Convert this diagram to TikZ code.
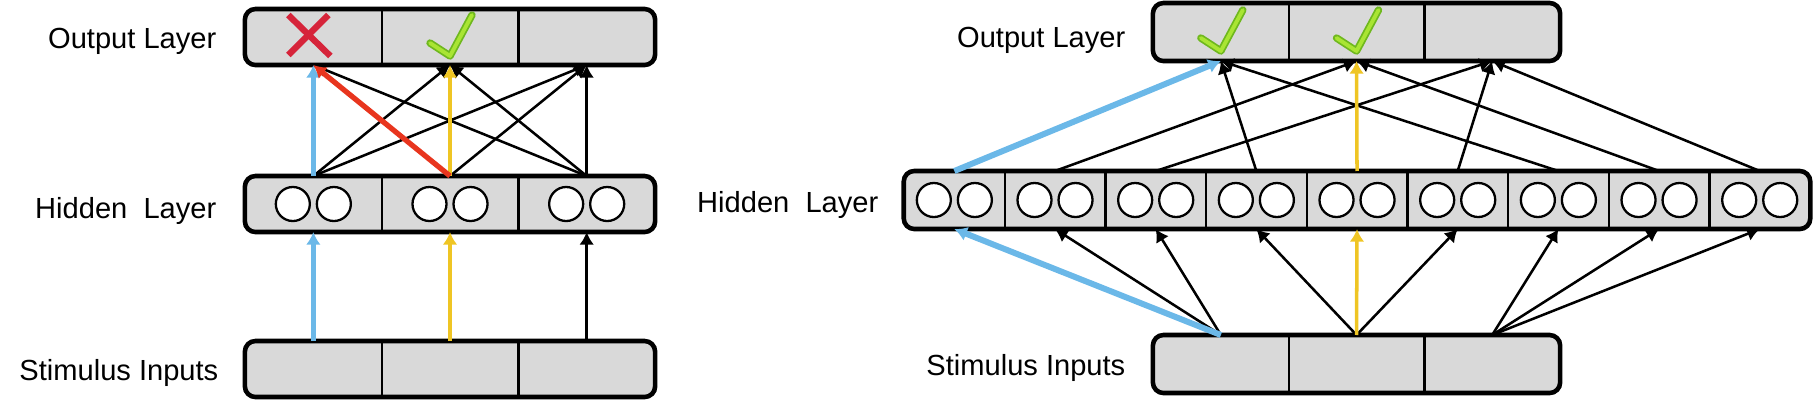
\documentclass[tikz,border=0pt]{standalone}
\usepackage{fontspec}
\setmainfont{Liberation Sans}
\usepackage{tikz}
\usetikzlibrary{positioning,arrows.meta}
\definecolor{boxfill}{HTML}{D9D9D9}
\definecolor{bluearr}{HTML}{6BB8E8}
\definecolor{yelarr}{HTML}{EFC524}
\definecolor{redarr}{HTML}{E8351E}
\definecolor{xred}{HTML}{D6243A}
\definecolor{tickfill}{HTML}{A9E533}
\definecolor{tickline}{HTML}{6FB81E}
\tikzset{
  layerbox/.style={draw, line width=1.3pt, fill=boxfill, rounded corners=3pt,
                   inner sep=0pt, outer sep=0pt},
  cell/.style={inner sep=0pt, outer sep=0pt},
  divider/.style={line width=0.65pt},
  unit/.style={circle, draw, fill=white, line width=0.65pt,
               minimum size=0.34cm, inner sep=0pt},
  lbl/.style={anchor=base east, inner sep=0pt,
              font=\fontsize{8.27pt}{10pt}\selectfont},
  conn/.style={-{Latex[length=3.6pt,width=4.2pt]}, line width=0.72pt},
  blueconn/.style={conn, draw=bluearr, line width=1.4pt},
  yelconn/.style={conn, draw=yelarr, line width=1.1pt},
  redconn/.style={conn, draw=redarr, line width=1.5pt},
  tickmark/.style={draw=tickline, double=tickfill, double distance=1.1pt,
                   line width=0.5pt, line cap=round, line join=round},
  xmark/.style={draw=xred, line width=1.8pt}
}
\newcommand{\drawtick}[1]{%
  \draw[tickmark] ([shift={(-20,6)}]#1.center) -- ([shift={(0,19)}]#1.center)
    -- ([shift={(22,-22)}]#1.center);}

\begin{document}
\begin{tikzpicture}[x=0.01cm, y=-0.01cm]
  \useasboundingbox (0,0) rectangle (1816,402);

  % --- left network: 3 inputs, 3 hidden groups, 3 outputs ---
  \node[layerbox, minimum width=4.1cm, minimum height=0.56cm] (L-out) at (450,37) {};
  \node[layerbox, minimum width=4.1cm, minimum height=0.56cm] (L-hid) at (450,204) {};
  \node[layerbox, minimum width=4.1cm, minimum height=0.56cm] (L-in) at (450,369) {};
  \foreach \i in {1,2,3} {
    \node[cell, minimum width=1.3667cm, minimum height=0.56cm] (L-o\i) at ({245+136.67*(\i-0.5)},37) {};
    \node[cell, minimum width=1.3667cm, minimum height=0.56cm] (L-h\i) at ({245+136.67*(\i-0.5)},204) {};
    \node[cell, minimum width=1.3667cm, minimum height=0.56cm] (L-i\i) at ({245+136.67*(\i-0.5)},369) {};
    \node[unit] (L-u\i-a) at ([xshift=-0.205cm]L-h\i.center) {};
    \node[unit] (L-u\i-b) at ([xshift=0.205cm]L-h\i.center) {};
  }
  \foreach \i in {1,2} {
    \draw[divider] (L-o\i.north east) -- (L-o\i.south east);
    \draw[divider] (L-h\i.north east) -- (L-h\i.south east);
    \draw[divider] (L-i\i.north east) -- (L-i\i.south east);
  }
  \node[lbl] (L-outlbl) at (217,48) {Output Layer};
  \node[lbl] (L-hidlbl) at (217,218) {Hidden\ \ Layer};
  \node[lbl] (L-inlbl) at (219,380) {Stimulus Inputs};

  % hidden -> output
  \draw[conn] (L-h1.north) -- (L-o2.south);
  \draw[conn] (L-h1.north) -- (L-o3.south);
  \draw[conn] (L-h2.north) -- (L-o3.south);
  \foreach \i in {1,2,3}
    \draw[conn] (L-h3.north) -- (L-o\i.south);
  \draw[blueconn] (L-h1.north) -- (L-o1.south);
  \draw[yelconn] (L-h2.north) -- (L-o2.south);
  \draw[redconn] (L-h2.north) -- (L-o1.south);
  % input -> hidden
  \draw[blueconn] (L-i1.north) -- (L-h1.south);
  \draw[yelconn] (L-i2.north) -- (L-h2.south);
  \draw[conn] (L-i3.north) -- (L-h3.south);

  % marks
  \draw[xmark] ([shift={(-25,-22)}]L-o1.center) -- ([shift={(17,19)}]L-o1.center);
  \draw[xmark] ([shift={(15,-22)}]L-o1.center) -- ([shift={(-25,18)}]L-o1.center);
  \drawtick{L-o2}

  % --- right network: 3 inputs, 9 hidden groups, 3 outputs ---
  \node[layerbox, minimum width=4.07cm, minimum height=0.58cm] (R-out) at (1356.5,32) {};
  \node[layerbox, minimum width=9.06cm, minimum height=0.58cm] (R-hid) at (1357,200) {};
  \node[layerbox, minimum width=4.07cm, minimum height=0.58cm] (R-in) at (1356.5,364) {};
  \foreach \i in {1,2,3} {
    \node[cell, minimum width=1.3567cm, minimum height=0.58cm] (R-o\i) at ({1153+135.67*(\i-0.5)},32) {};
    \node[cell, minimum width=1.3567cm, minimum height=0.58cm] (R-i\i) at ({1153+135.67*(\i-0.5)},364) {};
  }
  \foreach \i in {1,...,9} {
    \node[cell, minimum width=1.0067cm, minimum height=0.58cm] (R-h\i) at ({904+100.67*(\i-0.5)},200) {};
    \node[unit] (R-u\i-a) at ([xshift=-0.205cm]R-h\i.center) {};
    \node[unit] (R-u\i-b) at ([xshift=0.205cm]R-h\i.center) {};
  }
  \foreach \i in {1,2} {
    \draw[divider] (R-o\i.north east) -- (R-o\i.south east);
    \draw[divider] (R-i\i.north east) -- (R-i\i.south east);
  }
  \foreach \i in {1,...,8}
    \draw[divider] (R-h\i.north east) -- (R-h\i.south east);
  \node[lbl] (R-outlbl) at (1126,47) {Output Layer};
  \node[lbl] (R-hidlbl) at (879,212) {Hidden\ \ Layer};
  \node[lbl] (R-inlbl) at (1126,375) {Stimulus Inputs};

  % hidden -> output, input -> hidden
  \foreach \i in {2,3,4,6,7,8,9} {
    \pgfmathtruncatemacro\tgt{mod(\i-1,3)+1}
    \pgfmathtruncatemacro\src{int((\i-1)/3)+1}
    \draw[conn] (R-h\i.north) -- (R-o\tgt.south);
    \draw[conn] (R-i\src.north) -- (R-h\i.south);
  }
  \draw[blueconn, line width=1.7pt] (R-h1.north) -- (R-o1.south);
  \draw[blueconn, line width=1.7pt] (R-i1.north) -- (R-h1.south);
  \draw[yelconn, line width=1pt] (R-h5.north) -- (R-o2.south);
  \draw[yelconn, line width=1pt] (R-i2.north) -- (R-h5.south);

  % marks
  \drawtick{R-o1}
  \drawtick{R-o2}

\end{tikzpicture}
\end{document}
